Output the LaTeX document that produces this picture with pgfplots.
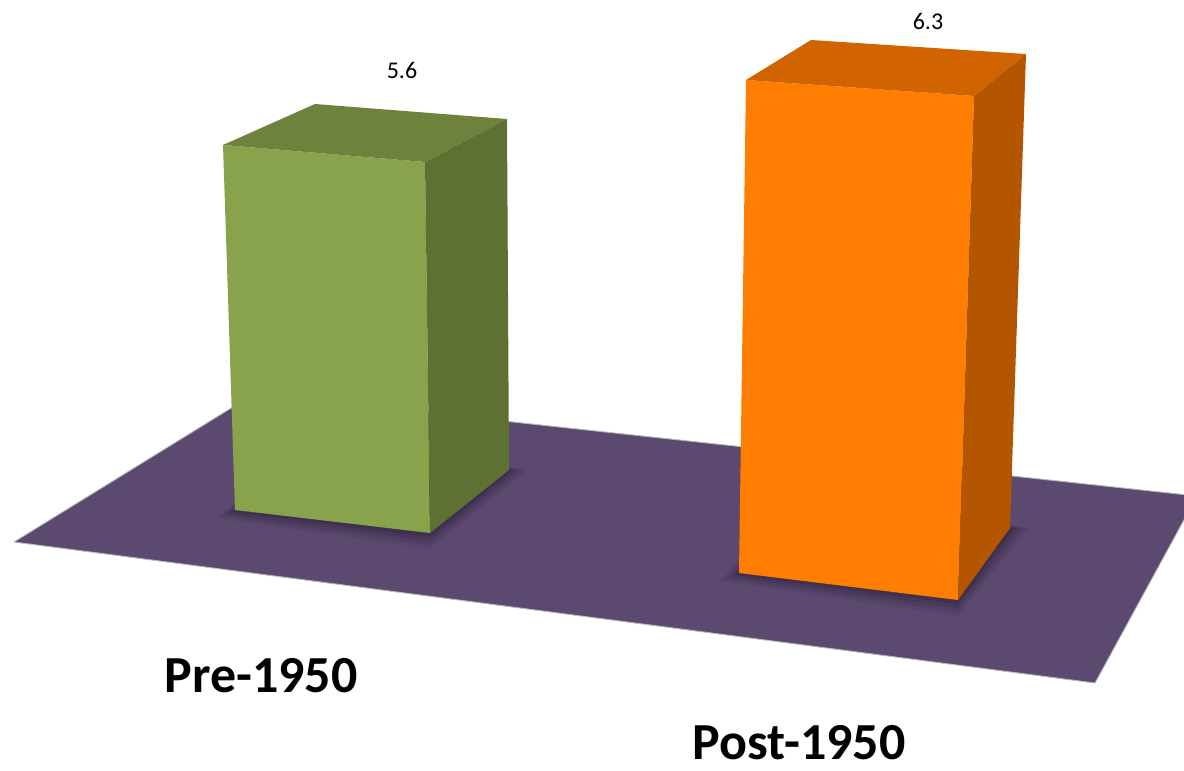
\documentclass[border=0pt]{standalone}
\usepackage{fontspec}
\setmainfont{Carlito}
\usepackage{pgfplots}
\pgfplotsset{compat=1.18}
\definecolor{floorc}{RGB}{92,73,111}
\definecolor{shadowc}{RGB}{50,36,64}
\definecolor{gfront}{RGB}{137,163,77}
\definecolor{gtop}{RGB}{110,130,62}
\definecolor{gside}{RGB}{94,112,50}
\definecolor{ofront}{RGB}{255,125,0}
\definecolor{otop}{RGB}{209,99,0}
\definecolor{oside}{RGB}{180,86,0}
\begin{document}
\begin{tikzpicture}
\begin{axis}[
  width=1184pt, height=771pt, scale only axis,
  xmin=0, xmax=1184, ymin=0, ymax=771, y dir=reverse,
  hide axis, clip=true,
]
% frame (invisible) to fix the picture size
\addplot[draw=none] coordinates {(0,0) (1184,771)};
% floor
\addplot[fill=floorc, draw=black!28, line width=0.9pt] coordinates {(14,542) (254,394) (1197,496) (1095,683) (14,542)};
% shadows under the bars
\addplot[fill=shadowc, draw=none, opacity=0.12] coordinates {(216,518) (430,549) (528,470) (316,434)};
\addplot[fill=shadowc, draw=none, opacity=0.18] coordinates {(221,516) (430,545) (523,470) (316,438)};
\addplot[fill=shadowc, draw=none, opacity=0.25] coordinates {(226,514) (430,541) (518,470) (316,442)};
\addplot[fill=shadowc, draw=none, opacity=0.35] coordinates {(231,512) (430,537) (513,470) (316,446)};
\addplot[fill=shadowc, draw=none, opacity=0.12] coordinates {(720,581) (958,616) (1029,528) (800,489)};
\addplot[fill=shadowc, draw=none, opacity=0.18] coordinates {(725,579) (958,612) (1024,528) (800,493)};
\addplot[fill=shadowc, draw=none, opacity=0.25] coordinates {(730,577) (958,608) (1019,528) (800,497)};
\addplot[fill=shadowc, draw=none, opacity=0.35] coordinates {(735,575) (958,604) (1014,528) (800,501)};
% Pre-1950 bar (5.6)
\addplot[fill=gfront, draw=none] coordinates {(223,145) (425,162) (430,533) (235,510) (223,145)};
\addplot[fill=gtop, draw=none] coordinates {(223,145) (315,104) (507,119) (425,162) (223,145)};
\addplot[fill=gside, draw=none] coordinates {(425,162) (507,119) (509,470) (430,533) (425,162)};
% Post-1950 bar (6.3)
\addplot[fill=ofront, draw=none] coordinates {(746,80) (974,96) (958,600) (739,573) (746,80)};
\addplot[fill=otop, draw=none] coordinates {(746,80) (811,40) (1026,54) (974,96) (746,80)};
\addplot[fill=oside, draw=none] coordinates {(974,96) (1026,54) (1010,528) (958,600) (974,96)};
% value labels
\addplot[draw=none, mark=none, nodes near coords, point meta=explicit symbolic,
  nodes near coords align={center},
  every node near coord/.append style={anchor=center, font=\fontsize{24}{24}\selectfont, text=black}]
  coordinates {(402,70) [5.6] (928,21) [6.3]};
% category labels
\addplot[draw=none, mark=none, nodes near coords, point meta=explicit symbolic,
  nodes near coords align={center},
  every node near coord/.append style={anchor=center, inner sep=1pt, font=\bfseries\fontsize{52}{52}\selectfont, text=black}]
  coordinates {(261,676) [Pre-1950] (799,743) [Post-1950]};
\end{axis}
\end{tikzpicture}
\end{document}
